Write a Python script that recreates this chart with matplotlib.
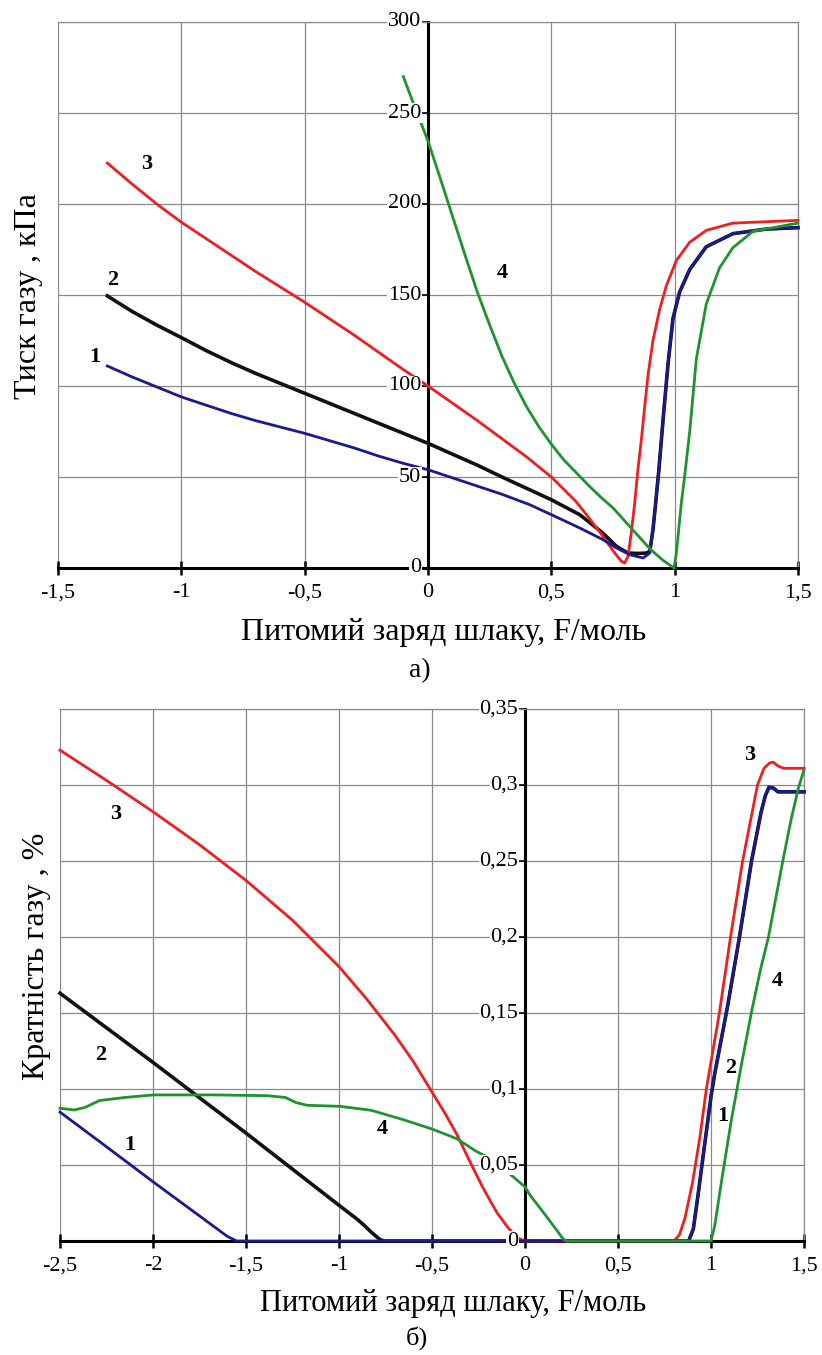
import matplotlib.pyplot as plt
from matplotlib.ticker import FuncFormatter, MultipleLocator

plt.rcParams['font.family'] = ['Liberation Serif', 'DejaVu Serif']

RED = '#f01e1e'
BLUE = '#1a1a90'
BLACK = '#111111'
GREEN = '#1e9430'
GRID = '#8a8a8a'

# ---------- а) тиск газу, кПа ----------
p1_x = [-1.3, -1.2, -1.1, -1.0, -0.9, -0.8, -0.7, -0.6, -0.5, -0.4, -0.3, -0.2, -0.1,
        0.0, 0.1, 0.2, 0.3, 0.412, 0.5, 0.615, 0.709, 0.764, 0.818, 0.872, 0.899,
        0.912, 0.923, 0.936, 0.953, 0.973, 0.993, 1.02, 1.061, 1.128, 1.236, 1.37, 1.5]
p1_y = [111, 105, 99.5, 94, 89.5, 85, 81, 77.5, 74, 70, 66, 61.5, 57.5,
        54, 49.5, 45, 40.5, 34.8, 29.3, 22, 15.6, 11, 7.3, 5.5, 8.2,
        21, 35.7, 54, 81.5, 112, 137, 151.6, 164, 176.5, 183.7, 186.2, 187]

p2_x = [-1.3, -1.2, -1.1, -1.0, -0.9, -0.8, -0.7, -0.6, -0.5, -0.4, -0.3, -0.2, -0.1,
        0.0, 0.1, 0.2, 0.3, 0.412, 0.5, 0.615, 0.709, 0.764, 0.811, 0.85, 0.885, 0.899,
        0.912, 0.923, 0.936, 0.953, 0.973, 0.993, 1.02, 1.061, 1.128, 1.236, 1.37, 1.5]
p2_y = [149.5, 141, 133.5, 126.6, 119.5, 113, 107, 101.5, 96, 90.5, 85, 79.5, 74,
        68.5, 62.5, 56.5, 50, 43, 37.5, 29.3, 19.2, 11.9, 8.2, 8.0, 8.2, 9.2,
        21, 35.7, 54, 81.5, 112, 137, 151.6, 164, 176.5, 183.7, 186.2, 187]

p3_x = [-1.3, -1.2, -1.1, -1.0, -0.9, -0.8, -0.7, -0.6, -0.5, -0.4, -0.3, -0.2, -0.1,
        0.0, 0.1, 0.2, 0.3, 0.4, 0.5, 0.6, 0.65, 0.709, 0.757, 0.784, 0.797, 0.811, 0.824,
        0.838, 0.851, 0.865, 0.878, 0.892, 0.912, 0.939, 0.966, 1.007, 1.061, 1.128, 1.236, 1.5]
p3_y = [222.5, 211, 200, 190, 181, 172, 163, 154.5, 146, 137, 128, 118.5, 109,
        100, 90.5, 81, 71, 61, 50, 36.5, 28, 17.4, 8.2, 3.7, 2.7, 6.4, 19.2,
        35.7, 54, 70.5, 88, 106, 125, 142, 155, 169, 179, 185.5, 189.5, 191]

p4_x = [-0.1, -0.05, 0.0, 0.05, 0.1, 0.15, 0.2, 0.25, 0.3, 0.35, 0.4, 0.45, 0.5,
        0.55, 0.6, 0.65, 0.7, 0.75, 0.8, 0.85, 0.9, 0.95, 0.997, 1.007, 1.027, 1.04,
        1.061, 1.088, 1.128, 1.182, 1.236, 1.318, 1.5]
p4_y = [270, 252, 234.6, 214, 193, 172, 151.6, 133.5, 116.3, 101.5, 88.5, 77.5, 68,
        59.5, 52.5, 45.5, 39, 33, 25.5, 18, 10.5, 4.5, 0, 8.2, 35.7, 50,
        75, 115, 145, 165, 176, 185, 189.5]

p_lbl_text = ['1', '2', '3', '4']
p_lbl_x = [-1.35, -1.28, -1.14, 0.30]
p_lbl_y = [116, 158, 222, 162]

# ---------- б) кратність газу, % ----------
g1_x = [-2.5, -2.25, -2.0, -1.75, -1.65, -1.6, -1.55, 0.88, 0.905, 0.93, 0.96, 1.0,
        1.02, 1.09, 1.153, 1.218, 1.268, 1.292, 1.312, 1.335, 1.36, 1.5]
g1_y = [0.0848, 0.062, 0.039, 0.0165, 0.0075, 0.003, 0.0, 0.0, 0.008, 0.03, 0.058, 0.095,
        0.11, 0.155, 0.2, 0.25, 0.2814, 0.293, 0.2985, 0.298, 0.2955, 0.2955]

g2_x = [-2.5, -2.0, -1.5, -1.0, -0.95, -0.9, -0.86, -0.83, -0.8, -0.78, -0.76, 0.88,
        0.905, 0.93, 0.96, 1.0, 1.02, 1.09, 1.153, 1.218, 1.268, 1.292, 1.312, 1.335,
        1.36, 1.5]
g2_y = [0.163, 0.1175, 0.071, 0.0235, 0.0188, 0.0141, 0.0098, 0.0062, 0.003, 0.001, 0.0, 0.0,
        0.008, 0.03, 0.058, 0.095, 0.11, 0.155, 0.2, 0.25, 0.2814, 0.293, 0.2985, 0.298,
        0.2955, 0.2955]

g3_x = [-2.5, -2.25, -2.0, -1.75, -1.5, -1.25, -1.0, -0.85, -0.7, -0.6, -0.5, -0.43,
        -0.365, -0.315, -0.269, -0.23, -0.192, -0.15, -0.096, -0.06, -0.03, 0.0, 0.8,
        0.83, 0.86, 0.9, 0.94, 0.975, 1.045, 1.105, 1.17, 1.25, 1.285, 1.315, 1.335,
        1.36, 1.39, 1.5]
g3_y = [0.3229, 0.303, 0.2824, 0.2607, 0.2372, 0.211, 0.1805, 0.159, 0.1355, 0.118, 0.098,
        0.084, 0.0698, 0.057, 0.0455, 0.036, 0.0275, 0.0185, 0.0095, 0.0045, 0.0015, 0.0, 0.0,
        0.004, 0.015, 0.038, 0.068, 0.1, 0.15, 0.2, 0.25, 0.3, 0.311, 0.3145, 0.315,
        0.3125, 0.311, 0.311]

g4_x = [-2.5, -2.423, -2.365, -2.288, -2.154, -1.996, -1.673, -1.385, -1.288, -1.231,
        -1.173, -0.996, -0.827, -0.654, -0.496, -0.365, -0.269, -0.2, -0.1, 0.0, 0.027,
        0.115, 0.168, 0.204, 0.22, 1.0, 1.02, 1.06, 1.11, 1.165, 1.22, 1.265, 1.309,
        1.386, 1.43, 1.47, 1.5]
g4_y = [0.0873, 0.0862, 0.0879, 0.0924, 0.0944, 0.0961, 0.0961, 0.0956, 0.0944, 0.0911,
        0.0893, 0.0886, 0.086, 0.0798, 0.0735, 0.0672, 0.0595, 0.055, 0.046, 0.0356, 0.0302,
        0.0162, 0.0075, 0.0015, 0.0, 0.0, 0.01, 0.042, 0.08, 0.117, 0.152, 0.178, 0.2,
        0.25, 0.277, 0.298, 0.31]

g_lbl_text = ['3', '2', '1', '4', '3', '4', '2', '1']
g_lbl_x = [-2.20, -2.28, -2.125, -0.765, 1.21, 1.355, 1.104, 1.064]
g_lbl_y = [0.281, 0.1225, 0.0634, 0.0735, 0.32, 0.171, 0.1137, 0.0823]

xlabel = 'Питомий заряд шлаку, F/моль'


def comma(v, pos=None):
    return f'{v:g}'.replace('.', ',')


def setup(ax, xlim, ylim, xstep, ystep):
    ax.set_xlim(*xlim)
    ax.set_ylim(*ylim)
    ax.xaxis.set_major_locator(MultipleLocator(xstep))
    ax.yaxis.set_major_locator(MultipleLocator(ystep))
    ax.xaxis.set_major_formatter(FuncFormatter(comma))
    ax.grid(True, color=GRID, lw=0.9)
    ax.spines['left'].set_position(('data', 0))
    ax.spines['left'].set_linewidth(2.2)
    ax.spines['bottom'].set_linewidth(2.2)
    for s in ('top', 'right'):
        ax.spines[s].set_color(GRID)
        ax.spines[s].set_linewidth(0.9)
    ax.tick_params(axis='x', direction='inout', length=10, width=1.8, labelsize=16, pad=6)
    ax.tick_params(axis='y', direction='out', length=5, width=1.2, labelleft=False)
    # y tick labels sit beside the central axis on a white patch
    for v in ax.get_yticks():
        if ylim[0] - 1e-9 <= v <= ylim[1] + 1e-9:
            ax.annotate(comma(round(v, 4)), xy=(0, v), xytext=(-5, 0),
                        textcoords='offset points', ha='right', va='center',
                        fontsize=16, zorder=6, annotation_clip=False,
                        bbox=dict(fc='white', ec='none', pad=0.3))


fig = plt.figure(figsize=(8.22, 13.55), dpi=100)
ax1 = fig.add_axes([58 / 822, 1 - 568 / 1355, 740 / 822, 546 / 1355])
ax2 = fig.add_axes([60 / 822, 1 - 1241 / 1355, 744 / 822, 532 / 1355])

setup(ax1, (-1.5, 1.5), (0, 300), 0.5, 50)
ax1.plot(p2_x, p2_y, color=BLACK, lw=2.6, clip_on=False, zorder=3)
ax1.plot(p3_x, p3_y, color=RED, lw=2.0, clip_on=False, zorder=3)
ax1.plot(p1_x, p1_y, color=BLUE, lw=2.0, clip_on=False, zorder=3)
ax1.plot(p4_x, p4_y, color=GREEN, lw=2.0, clip_on=False, zorder=3)
for s, x, y in zip(p_lbl_text, p_lbl_x, p_lbl_y):
    ax1.text(x, y, s, fontsize=16, fontweight='bold', ha='center', va='center')
ax1.set_xlabel(xlabel, fontsize=23, va='center')
ax1.xaxis.set_label_coords(0.5216, -0.119)
ax1.set_ylabel('Тиск газу , кПа', fontsize=23, va='center')
ax1.yaxis.set_label_coords(-0.0405, 0.498)

setup(ax2, (-2.5, 1.5), (0, 0.35), 0.5, 0.05)
ax2.plot(g2_x, g2_y, color=BLACK, lw=2.6, clip_on=False, zorder=3)
ax2.plot(g3_x, g3_y, color=RED, lw=2.0, clip_on=False, zorder=3)
ax2.plot(g1_x, g1_y, color=BLUE, lw=2.0, clip_on=False, zorder=3)
ax2.plot(g4_x, g4_y, color=GREEN, lw=2.0, clip_on=False, zorder=3)
for s, x, y in zip(g_lbl_text, g_lbl_x, g_lbl_y):
    ax2.text(x, y, s, fontsize=16, fontweight='bold', ha='center', va='center')
ax2.set_xlabel(xlabel, fontsize=22, va='center')
ax2.xaxis.set_label_coords(0.528, -0.1175)
ax2.set_ylabel('Кратність газу , %', fontsize=23, va='center')
ax2.yaxis.set_label_coords(-0.031, 0.536)

fig.text(420 / 822, 1 - 671 / 1355, 'а)', fontsize=20, ha='center', va='center')
fig.text(417 / 822, 1 - 1338 / 1355, 'б)', fontsize=19, ha='center', va='center')

fig.savefig('out.png', dpi=100)
